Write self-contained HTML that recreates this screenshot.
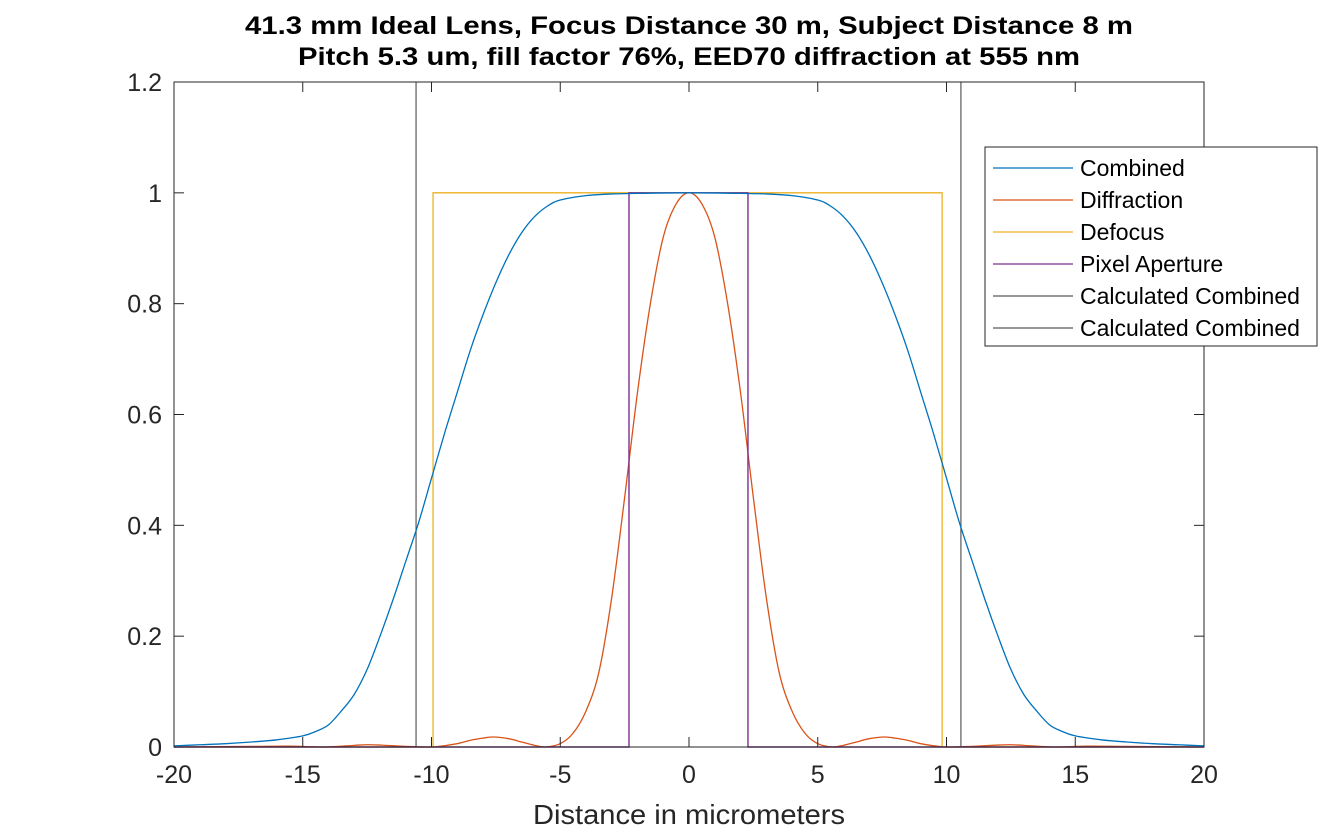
<!DOCTYPE html>
<html><head><meta charset="utf-8"><style>
html,body{margin:0;padding:0;background:#fff;}
svg{display:block;font-family:"Liberation Sans",Arial,sans-serif;}
</style></head><body>
<svg id="chart" width="1332" height="840" viewBox="0 0 1332 840" xmlns="http://www.w3.org/2000/svg">
<rect width="1332" height="840" fill="#fff"/>
<text x="689" y="34" text-anchor="middle" font-size="25" font-weight="bold" fill="#000" textLength="888" lengthAdjust="spacingAndGlyphs">41.3 mm Ideal Lens, Focus Distance 30 m, Subject Distance 8 m</text>
<text x="689" y="65" text-anchor="middle" font-size="25" font-weight="bold" fill="#000" textLength="782" lengthAdjust="spacingAndGlyphs">Pitch 5.3 um, fill factor 76%, EED70 diffraction at 555 nm</text>
<g id="plot"></g>
<g id="axes"></g>
<text x="689" y="824" text-anchor="middle" font-size="28" fill="#262626" textLength="312" lengthAdjust="spacingAndGlyphs">Distance in micrometers</text>
<g id="legend"></g>
</svg>
<script>
const xTicks = [-20,-15,-10,-5,0,5,10,15,20];
const yTicks = [0,0.2,0.4,0.6,0.8,1,1.2];
const yTickLabels = ["0","0.2","0.4","0.6","0.8","1","1.2"];
const combinedX = [-20,-19,-18,-17,-16,-15,-14.5,-14,-13.5,-13,-12.5,-12,-11.5,-11,-10.5,-10,-9.5,-9,-8.5,-8,-7.5,-7,-6.5,-6,-5.5,-5,-4,-3,-2,0,2,3,4,5,5.5,6,6.5,7,7.5,8,8.5,9,9.5,10,10.5,11,11.5,12,12.5,13,13.5,14,14.5,15,16,17,18,19,20];
const combinedY = [0.002,0.004,0.006,0.009,0.013,0.02,0.028,0.04,0.065,0.095,0.14,0.2,0.265,0.335,0.405,0.485,0.565,0.64,0.715,0.78,0.838,0.888,0.928,0.957,0.976,0.987,0.995,0.998,0.999,1,0.999,0.998,0.995,0.987,0.976,0.957,0.928,0.888,0.838,0.78,0.715,0.64,0.565,0.485,0.405,0.335,0.265,0.2,0.14,0.095,0.065,0.04,0.028,0.02,0.013,0.009,0.006,0.004,0.002];
const diffX = [-20,-17,-15.5,-14.2,-13,-12.5,-12,-11,-10.2,-9.9,-9,-8.5,-8,-7.6,-7,-6.5,-6,-5.6,-5,-4.5,-4,-3.5,-3,-2.5,-2,-1.5,-1,-0.5,0,0.5,1,1.5,2,2.5,3,3.5,4,4.5,5,5.6,6,6.5,7,7.6,8,8.5,9,9.9,10.2,11,12,12.5,13,14.2,15.5,17,20];
const diffY = [0,0.001,0.0015,0,0.003,0.004,0.0035,0.001,0,0,0.006,0.012,0.016,0.018,0.015,0.009,0.003,0,0.006,0.025,0.065,0.135,0.27,0.45,0.64,0.8,0.92,0.98,1,0.98,0.92,0.8,0.64,0.45,0.27,0.135,0.065,0.025,0.006,0,0.003,0.009,0.015,0.018,0.016,0.012,0.006,0,0,0.001,0.0035,0.004,0.003,0,0.0015,0.001,0];
const defocusX = [-20,-9.94,-9.94,9.83,9.83,20];
const defocusY = [0,0,1,1,0,0];
const pixelX = [-20,-2.33,-2.33,2.29,2.29,20];
const pixelY = [0,0,1,1,0,0];
const calcLines = [-10.6,10.56];
const legendLabels = ["Combined","Diffraction","Defocus","Pixel Aperture","Calculated Combined","Calculated Combined"];
const legendColors = ["#0072BD","#D95319","#EDB120","#7E2F8E","#595959","#595959"];

const L=174,R=1204,T=82,B=747;
const sx=v=>L+(v+20)/40*(R-L);
const sy=v=>B-v/1.2*(B-T);
const NS="http://www.w3.org/2000/svg";
function mk(tag,attrs,parent){const e=document.createElementNS(NS,tag);for(const k in attrs)e.setAttribute(k,attrs[k]);parent.appendChild(e);return e;}
const plot=document.getElementById('plot'),axes=document.getElementById('axes'),legend=document.getElementById('legend');

function smooth(xs,ys){
  const p=xs.map((x,i)=>[sx(x),sy(ys[i])]);
  let d=`M${p[0][0]},${p[0][1]}`;
  for(let i=0;i<p.length-1;i++){
    const p0=p[i-1]||p[i],p1=p[i],p2=p[i+1],p3=p[i+2]||p2;
    const c1=[p1[0]+(p2[0]-p0[0])/6,p1[1]+(p2[1]-p0[1])/6];
    const c2=[p2[0]-(p3[0]-p1[0])/6,p2[1]-(p3[1]-p1[1])/6];
    d+=`C${c1[0]},${Math.min(B,c1[1])} ${c2[0]},${Math.min(B,c2[1])} ${p2[0]},${p2[1]}`;
  }
  return d;
}
function poly(xs,ys){return xs.map((x,i)=>(i?'L':'M')+sx(x)+','+sy(ys[i])).join('');}

calcLines.forEach((v,i)=>{
  const e=mk('line',{x1:sx(v),x2:sx(v),y1:T,y2:B,stroke:'#595959','stroke-width':1.2},plot);
  
  
});
let e;
e=mk('path',{d:poly(defocusX,defocusY),fill:'none',stroke:'#EDB120','stroke-width':1.3},plot);


e=mk('path',{d:smooth(diffX,diffY),fill:'none',stroke:'#D95319','stroke-width':1.3},plot);


e=mk('path',{d:poly(pixelX,pixelY),fill:'none',stroke:'#7E2F8E','stroke-width':1.4},plot);


e=mk('path',{d:smooth(combinedX,combinedY),fill:'none',stroke:'#0072BD','stroke-width':1.3},plot);



e=mk('rect',{x:L,y:T,width:R-L,height:B-T,fill:'none',stroke:'#262626','stroke-width':1},axes);


xTicks.forEach(v=>{
  const x=sx(v);
  mk('line',{x1:x,x2:x,y1:B,y2:B-10,stroke:'#262626'},axes);
  mk('line',{x1:x,x2:x,y1:T,y2:T+10,stroke:'#262626'},axes);
  const t=mk('text',{x:x,y:B+36,'text-anchor':'middle','font-size':25,fill:'#262626'},axes);
  t.textContent=String(v);
  
  
});
yTicks.forEach((v,i)=>{
  const y=sy(v);
  mk('line',{x1:L,x2:L+10,y1:y,y2:y,stroke:'#262626'},axes);
  mk('line',{x1:R,x2:R-10,y1:y,y2:y,stroke:'#262626'},axes);
  const t=mk('text',{x:L-12,y:y+9,'text-anchor':'end','font-size':25,fill:'#262626'},axes);
  t.textContent=yTickLabels[i];
  
  
});

e=mk('rect',{x:985,y:147,width:332,height:199,fill:'#fff',stroke:'#262626','stroke-width':1},legend);


legendLabels.forEach((lab,i)=>{
  const y=168+i*32;
  const g=mk('g',{},legend);
  
  
  mk('line',{x1:993,x2:1073,y1:y,y2:y,stroke:legendColors[i],'stroke-width':1.3},g);
  const t=mk('text',{x:1080,y:y+8,'font-size':23,fill:'#000'},g);
  t.textContent=lab;
});
</script>
</body></html>
